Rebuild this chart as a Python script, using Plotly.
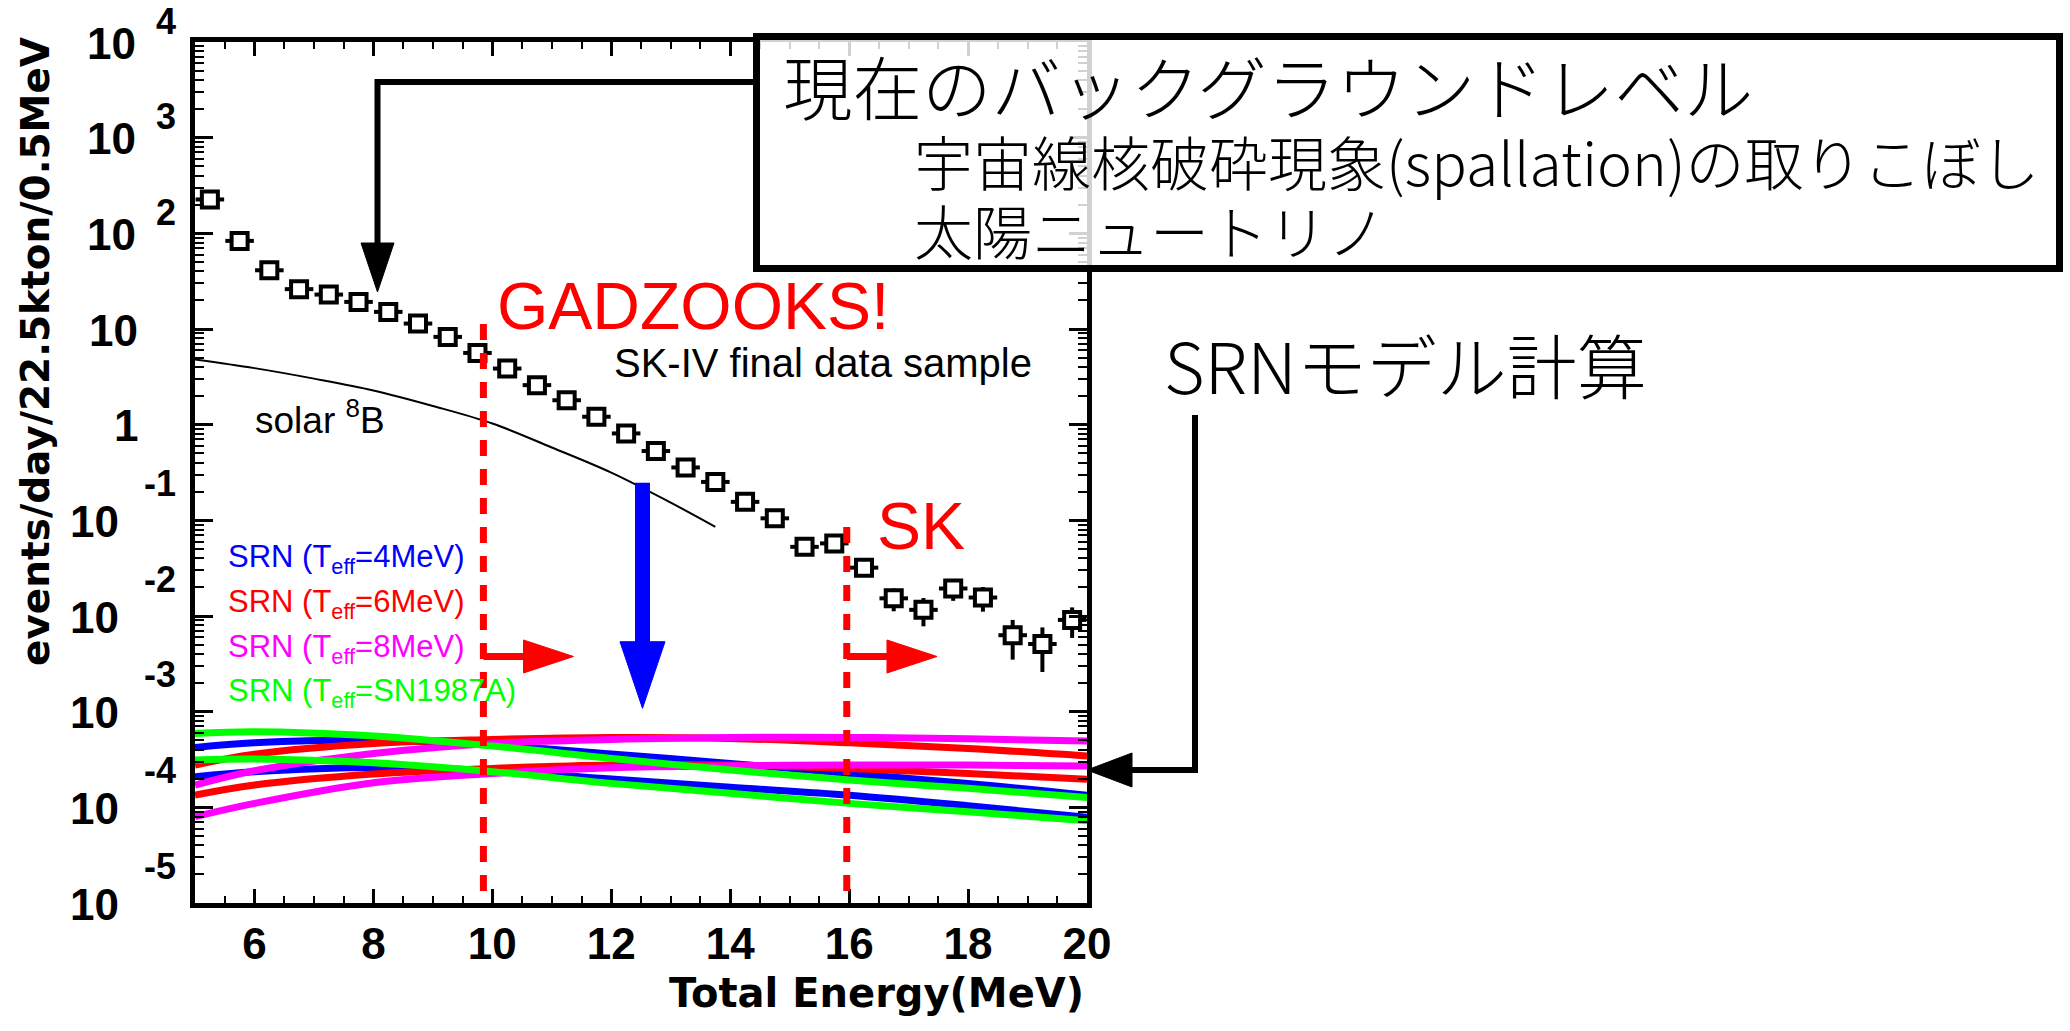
import plotly.graph_objects as go

# ---------------- data ----------------
energy_bins = [5.25, 5.75, 6.25, 6.75, 7.25, 7.75, 8.25, 8.75, 9.25, 9.75,
               10.25, 10.75, 11.25, 11.75, 12.25, 12.75, 13.25, 13.75, 14.25, 14.75,
               15.25, 15.75, 16.25, 16.75, 17.25, 17.75, 18.25, 18.75, 19.25, 19.75]
rate = [226, 83.4, 41.1, 26.1, 22.9, 19.2, 15.1, 11.4, 8.27, 5.62,
        3.86, 2.59, 1.80, 1.21, 0.81, 0.53, 0.357, 0.252, 0.156, 0.105,
        0.0528, 0.0574, 0.0320, 0.0153, 0.0116, 0.0194, 0.0156, 0.0063, 0.0051, 0.0091]
rate_err = [3, 1.5, 1.0, 0.8, 0.8, 0.7, 0.6, 0.5, 0.45, 0.35,
            0.3, 0.25, 0.2, 0.15, 0.11, 0.08, 0.06, 0.045, 0.03, 0.02,
            0.010, 0.010, 0.006, 0.0041, 0.0038, 0.005, 0.0045, 0.0028, 0.0025, 0.0032]
bin_half_width = 0.24

solar_e = [5, 6, 7, 8, 9, 10, 11, 12, 13, 13.75]
solar_rate = [4.8, 3.9, 3.03, 2.28, 1.57, 1.03, 0.577, 0.315, 0.153, 0.0855]

srn_e = [5, 6, 8, 10, 12, 14, 16, 18, 20]
srn_4_hi = [4.23e-4, 4.73e-4, 5.05e-4, 4.48e-4, 3.60e-4, 2.88e-4, 2.26e-4, 1.78e-4, 1.34e-4]
srn_4_lo = [2.09e-4, 2.36e-4, 2.61e-4, 2.41e-4, 1.98e-4, 1.62e-4, 1.34e-4, 1.04e-4, 7.85e-5]
srn_6_hi = [2.77e-4, 3.60e-4, 4.66e-4, 5.13e-4, 5.38e-4, 5.25e-4, 4.73e-4, 4.13e-4, 3.44e-4]
srn_6_lo = [1.34e-4, 1.71e-4, 2.23e-4, 2.55e-4, 2.77e-4, 2.77e-4, 2.55e-4, 2.26e-4, 1.96e-4]
srn_8_hi = [1.71e-4, 2.41e-4, 3.66e-4, 4.66e-4, 5.13e-4, 5.38e-4, 5.38e-4, 5.21e-4, 4.93e-4]
srn_8_lo = [7.98e-5, 1.10e-4, 1.81e-4, 2.26e-4, 2.59e-4, 2.72e-4, 2.77e-4, 2.77e-4, 2.70e-4]
srn_87a_hi = [5.93e-4, 6.17e-4, 5.56e-4, 4.37e-4, 3.25e-4, 2.45e-4, 1.93e-4, 1.58e-4, 1.27e-4]
srn_87a_lo = [3.12e-4, 3.20e-4, 2.92e-4, 2.36e-4, 1.78e-4, 1.40e-4, 1.10e-4, 8.99e-5, 7.24e-5]

thresholds = [9.85, 15.96]

x_tick_vals = [6, 8, 10, 12, 14, 16, 18, 20]
x_tick_text = ["6", "8", "10", "12", "14", "16", "18", "20"]
y_tick_exps = [4, 3, 2, 1, 0, -1, -2, -3, -4, -5]

srn_labels = ["SRN (T<sub>eff</sub>=4MeV)", "SRN (T<sub>eff</sub>=6MeV)",
              "SRN (T<sub>eff</sub>=8MeV)", "SRN (T<sub>eff</sub>=SN1987A)"]
srn_colors = ["#0000ff", "#ff0000", "#ff00ff", "#00ff00"]

# ---------------- layout geometry (pixels) ----------------
W, H = 2070, 1031
PL, PR, PT, PB = 195, 1087, 42, 903


def px(x):
    return (x - PL) / (PR - PL)


def py(y):
    return (PB - y) / (PB - PT)


fig = go.Figure()

srn_sets = [(srn_4_hi, srn_4_lo), (srn_6_hi, srn_6_lo), (srn_8_hi, srn_8_lo), (srn_87a_hi, srn_87a_lo)]
for (hi, lo), col in zip(srn_sets, srn_colors):
    for ys in (hi, lo):
        fig.add_trace(go.Scatter(x=srn_e, y=ys, mode="lines", line=dict(color=col, width=7, shape="spline"),
                                 showlegend=False, hoverinfo="skip"))

fig.add_trace(go.Scatter(x=solar_e, y=solar_rate, mode="lines",
                         line=dict(color="black", width=2, shape="spline"), showlegend=False))

fig.add_trace(go.Scatter(
    x=energy_bins, y=rate, mode="markers",
    marker=dict(symbol="square", size=16, color="white", line=dict(color="black", width=4)),
    error_y=dict(type="data", array=rate_err, color="black", thickness=4, width=0),
    error_x=dict(type="constant", value=bin_half_width, color="black", thickness=4, width=0),
    showlegend=False))

shapes = []
# threshold dashed lines
dash_tops = [324, 527]
for thr, top in zip(thresholds, dash_tops):
    shapes.append(dict(type="line", xref="x", yref="paper", x0=thr, x1=thr, y0=py(top), y1=py(897),
                       line=dict(color="#ff0000", width=7, dash="16px,13px"), layer="above"))


def poly(points):
    return "M " + " L ".join(f"{px(a):.5f},{py(b):.5f}" for a, b in points) + " Z"


def polyline(points):
    return "M " + " L ".join(f"{px(a):.5f},{py(b):.5f}" for a, b in points)


# red arrows
for x0 in (483.5, 847):
    shapes.append(dict(type="path", xref="paper", yref="paper", path=polyline([(x0, 656.5), (x0 + 42, 656.5)]),
                       line=dict(color="#ff0000", width=7), layer="above"))
    shapes.append(dict(type="path", xref="paper", yref="paper",
                       path=poly([(x0 + 40, 640), (x0 + 40, 673), (x0 + 90, 656.5)]),
                       fillcolor="#ff0000", line=dict(color="#ff0000", width=1), layer="above"))
# blue arrow
shapes.append(dict(type="path", xref="paper", yref="paper", path=polyline([(642.5, 482.7), (642.5, 645)]),
                   line=dict(color="#0000ff", width=15), layer="above"))
shapes.append(dict(type="path", xref="paper", yref="paper",
                   path=poly([(620, 641.7), (665, 641.7), (642.5, 708.3)]),
                   fillcolor="#0000ff", line=dict(color="#0000ff", width=1), layer="above"))

# Japanese box
shapes.append(dict(type="rect", xref="paper", yref="paper", x0=px(756.5), x1=px(2059.5), y0=py(268.5), y1=py(36.5),
                   fillcolor="rgba(255,255,255,0.82)", line=dict(color="black", width=7), layer="above"))
# black arrow 1 (box -> data)
shapes.append(dict(type="path", xref="paper", yref="paper", path=polyline([(753, 82), (377.5, 82), (377.5, 248)]),
                   line=dict(color="black", width=6), layer="above"))
shapes.append(dict(type="path", xref="paper", yref="paper", path=poly([(361, 243), (394, 243), (377.5, 292)]),
                   fillcolor="black", line=dict(color="black", width=1), layer="above"))
# black arrow 2 (SRN text -> curves)
shapes.append(dict(type="path", xref="paper", yref="paper", path=polyline([(1195, 415), (1195, 770), (1128, 770)]),
                   line=dict(color="black", width=6), layer="above"))
shapes.append(dict(type="path", xref="paper", yref="paper", path=poly([(1132, 753), (1132, 787), (1087, 770)]),
                   fillcolor="black", line=dict(color="black", width=1), layer="above"))

ann = []
LAT = "Liberation Sans"
CJK = "Noto Sans CJK JP"


def text(t, x, y, size, color="black", family=LAT, xanchor="left", weight="normal", angle=0):
    ann.append(dict(text=t, xref="paper", yref="paper", x=px(x), y=py(y), xanchor=xanchor, yanchor="middle",
                    showarrow=False, textangle=angle,
                    font=dict(family=family, size=size, color=color, weight=weight)))


# y tick labels (ROOT style 10^n)
for e in y_tick_exps:
    if e in (0, 1):
        ann.append(dict(text=("1" if e == 0 else "10"), xref="paper", yref="y", x=px(140), y=e,
                        xanchor="right", yanchor="middle", showarrow=False, yshift=-1,
                        font=dict(family=LAT, size=44, color="black", weight="bold")))
    else:
        base_right = 138 if e > 0 else 121
        ann.append(dict(text="10", xref="paper", yref="y", x=px(base_right), y=e,
                        xanchor="right", yanchor="middle", showarrow=False, yshift=-1,
                        font=dict(family=LAT, size=44, color="black", weight="bold")))
        ann.append(dict(text=str(e), xref="paper", yref="y", x=px(178), y=e,
                        xanchor="right", yanchor="middle", showarrow=False, yshift=(21 if e > 0 else 37),
                        font=dict(family=LAT, size=36, color="black", weight="bold")))

# axis titles
text("Total Energy(MeV)", 1086, 993, 40, family="DejaVu Sans", xanchor="right", weight="bold")
ann.append(dict(text="events/day/22.5kton/0.5MeV", xref="paper", yref="paper", x=px(35), y=py(352),
                xanchor="center", yanchor="middle", showarrow=False, textangle=-90,
                font=dict(family="DejaVu Sans", size=39, color="black", weight="bold")))

# plot texts
text("solar <sup>8</sup>B", 253, 418, 37)
text("SK-IV final data sample", 612, 363, 40)
text("GADZOOKS!", 495, 306, 66, color="#ff0000")
text("SK", 875, 526, 66, color="#ff0000")
for lab, col, yy in zip(srn_labels, srn_colors, [559, 604, 649, 693]):
    text(lab, 226, yy, 31, color=col)

# Japanese texts
text("現在のバックグラウンドレベル", 781, 84, 69.5, family=CJK, weight=300)
text("宇宙線核破砕現象(spallation)の取りこぼし", 912, 161, 59, family=CJK, weight=300)
text("太陽ニュートリノ", 912, 230, 59, family=CJK, weight=300)
text("SRNモデル計算", 1162, 363, 70, family=CJK, weight=300)

fig.update_layout(
    width=W, height=H,
    margin=dict(l=PL, r=W - PR, t=PT, b=H - PB, pad=0),
    paper_bgcolor="white", plot_bgcolor="white",
    showlegend=False,
    shapes=shapes, annotations=ann,
    xaxis=dict(range=[5, 20], tickvals=x_tick_vals, ticktext=x_tick_text,
               ticks="inside", ticklen=14, tickwidth=2.5, tickcolor="black",
               showline=True, linewidth=5, linecolor="black", mirror="ticks",
               showgrid=False, zeroline=False, ticklabelstandoff=-2,
               tickfont=dict(family=LAT, size=44, color="black", weight="bold"),
               minor=dict(dtick=0.5, ticks="inside", ticklen=7, tickwidth=2, tickcolor="black", showgrid=False)),
    yaxis=dict(type="log", range=[-5, 4], dtick=1, showticklabels=False,
               ticks="inside", ticklen=18, tickwidth=2.5, tickcolor="black",
               showline=True, linewidth=5, linecolor="black", mirror="ticks",
               showgrid=False, zeroline=False,
               minor=dict(dtick="D1", ticks="inside", ticklen=9, tickwidth=2, tickcolor="black", showgrid=False)),
)

fig.write_html("out.html")
